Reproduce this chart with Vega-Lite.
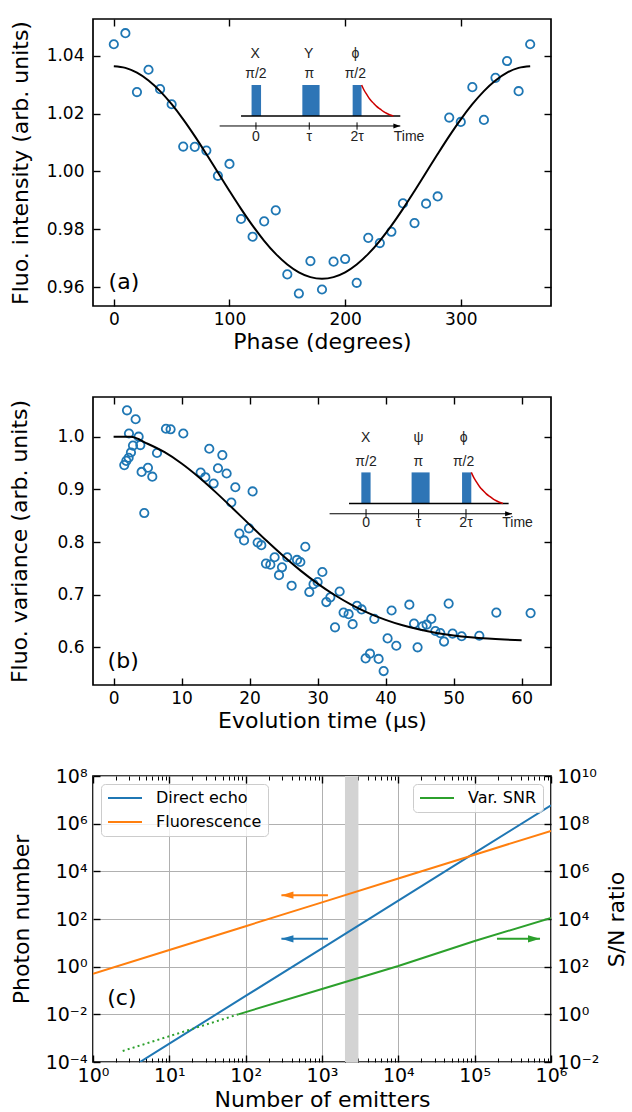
{
  "$schema": "https://vega.github.io/schema/vega-lite/v6.json",
  "background": "white",
  "padding": {"left": 8, "top": 17, "right": 0, "bottom": 2},
  "bounds": "flush",
  "spacing": 91,
  "resolve": {"legend": {"color": "independent", "stroke": "independent"}},
  "config": {
    "font": "DejaVu Sans",
    "view": {"stroke": "black", "strokeWidth": 1.7},
    "axis": {"labelFont": "DejaVu Sans", "titleFont": "DejaVu Sans", "labelColor": "black", "titleColor": "black", "titleFontWeight": "normal", "tickColor": "black", "tickWidth": 1.4, "domain": false, "grid": false, "labelFlush": false, "labelOverlap": false}
  },
  "datasets": {
    "a_pts": [
      {"phase":0,"intensity":1.0439},{"phase":10,"intensity":1.0477},{"phase":20,"intensity":1.0274},{"phase":30,"intensity":1.0351},{"phase":40,"intensity":1.0284},{"phase":50,"intensity":1.0232},{"phase":60,"intensity":1.0086},{"phase":70,"intensity":1.0085},{"phase":80,"intensity":1.0072},{"phase":90,"intensity":0.9985},{"phase":100,"intensity":1.0026},{"phase":110,"intensity":0.9836},{"phase":120,"intensity":0.9775},{"phase":130,"intensity":0.9828},{"phase":140,"intensity":0.9866},{"phase":150,"intensity":0.9645},{"phase":160,"intensity":0.9579},{"phase":170,"intensity":0.9691},{"phase":180,"intensity":0.9593},{"phase":190,"intensity":0.9689},{"phase":200,"intensity":0.9698},{"phase":210,"intensity":0.9616},{"phase":220,"intensity":0.9771},{"phase":230,"intensity":0.9753},{"phase":240,"intensity":0.9792},{"phase":250,"intensity":0.9890},{"phase":260,"intensity":0.9822},{"phase":270,"intensity":0.9889},{"phase":280,"intensity":0.9914},{"phase":290,"intensity":1.0186},{"phase":300,"intensity":1.0171},{"phase":310,"intensity":1.0291},{"phase":320,"intensity":1.0178},{"phase":330,"intensity":1.0323},{"phase":340,"intensity":1.0381},{"phase":350,"intensity":1.0277},{"phase":360,"intensity":1.0439}
    ],
    "a_fit": [
      {"phase":0,"intensity":1.03630},{"phase":10,"intensity":1.03574},{"phase":20,"intensity":1.03409},{"phase":30,"intensity":1.03139},{"phase":40,"intensity":1.02773},{"phase":50,"intensity":1.02321},{"phase":60,"intensity":1.01798},{"phase":70,"intensity":1.01219},{"phase":80,"intensity":1.00601},{"phase":90,"intensity":0.99965},{"phase":100,"intensity":0.99329},{"phase":110,"intensity":0.98711},{"phase":120,"intensity":0.98132},{"phase":130,"intensity":0.97609},{"phase":140,"intensity":0.97157},{"phase":150,"intensity":0.96791},{"phase":160,"intensity":0.96521},{"phase":170,"intensity":0.96356},{"phase":180,"intensity":0.96300},{"phase":190,"intensity":0.96356},{"phase":200,"intensity":0.96521},{"phase":210,"intensity":0.96791},{"phase":220,"intensity":0.97157},{"phase":230,"intensity":0.97609},{"phase":240,"intensity":0.98132},{"phase":250,"intensity":0.98711},{"phase":260,"intensity":0.99329},{"phase":270,"intensity":0.99965},{"phase":280,"intensity":1.00601},{"phase":290,"intensity":1.01219},{"phase":300,"intensity":1.01798},{"phase":310,"intensity":1.02321},{"phase":320,"intensity":1.02773},{"phase":330,"intensity":1.03139},{"phase":340,"intensity":1.03409},{"phase":350,"intensity":1.03574},{"phase":360,"intensity":1.03630}
    ],
    "a_pulse": [{"t0":119.1,"t1":127.3,"v0":1.01914,"v1":1.02984},{"t0":163.0,"t1":177.9,"v0":1.01914,"v1":1.02984},{"t0":206.5,"t1":214.2,"v0":1.01914,"v1":1.02984}],
    "a_base": [{"t0":110.0,"t1":247.7,"v":1.01914}],
    "a_axis": [{"t0":91.5,"t1":247.7,"v":1.0157}],
    "a_tick": [{"t":122.9,"v0":1.01442,"v1":1.01694},{"t":169.0,"v0":1.01442,"v1":1.01694},{"t":210.3,"v0":1.01442,"v1":1.01694}],
    "a_head": [{"t":247.7,"v":1.0157}],
    "a_decay": [{"t":214.25,"v":1.02984},{"t":216.41,"v":1.02802},{"t":218.92,"v":1.02642},{"t":221.60,"v":1.02481},{"t":224.62,"v":1.02353},{"t":227.22,"v":1.02246},{"t":230.42,"v":1.02149},{"t":233.27,"v":1.02064},{"t":236.21,"v":1.02000},{"t":238.46,"v":1.01957},{"t":241.66,"v":1.01914}],
    "a_txt": [
      {"t":122.3,"v":1.03926,"label":"X"},{"t":168.4,"v":1.03926,"label":"Y"},{"t":208.8,"v":1.03926,"label":"ϕ"},
      {"t":122.9,"v":1.03225,"label":"π/2"},{"t":169.0,"v":1.03225,"label":"π"},{"t":208.8,"v":1.03225,"label":"π/2"},
      {"t":122.9,"v":1.01052,"label":"0"},{"t":169.0,"v":1.01052,"label":"τ"},{"t":210.3,"v":1.01052,"label":"2τ"},{"t":255.3,"v":1.01052,"label":"Time"}
    ],
    "a_tag": [{"t":-4.5,"v":0.95933,"label":"(a)"}],
    "b_pts": [
      {"t":1.97,"v":1.050},{"t":3.24,"v":1.033},{"t":2.26,"v":1.006},{"t":3.68,"v":1.000},{"t":2.85,"v":0.983},{"t":3.93,"v":0.984},{"t":2.55,"v":0.970},{"t":2.21,"v":0.960},{"t":1.87,"v":0.954},{"t":1.57,"v":0.946},{"t":5.05,"v":0.941},{"t":4.12,"v":0.933},{"t":5.69,"v":0.924},{"t":4.51,"v":0.855},{"t":6.38,"v":0.969},{"t":7.70,"v":1.015},{"t":8.38,"v":1.014},{"t":10.25,"v":1.006},{"t":14.07,"v":0.977},{"t":15.99,"v":0.965},{"t":12.80,"v":0.932},{"t":13.49,"v":0.923},{"t":14.71,"v":0.911},{"t":15.35,"v":0.940},{"t":16.62,"v":0.930},{"t":17.90,"v":0.904},{"t":20.44,"v":0.896},{"t":17.31,"v":0.875},{"t":18.49,"v":0.816},{"t":19.90,"v":0.826},{"t":19.18,"v":0.803},{"t":21.18,"v":0.799},{"t":21.72,"v":0.794},{"t":23.68,"v":0.771},{"t":25.54,"v":0.771},{"t":28.19,"v":0.791},{"t":26.97,"v":0.766},{"t":27.46,"v":0.762},{"t":22.40,"v":0.759},{"t":23.05,"v":0.757},{"t":24.76,"v":0.752},{"t":30.70,"v":0.743},{"t":24.32,"v":0.737},{"t":26.18,"v":0.717},{"t":30.00,"v":0.724},{"t":29.40,"v":0.720},{"t":28.78,"v":0.705},{"t":33.24,"v":0.706},{"t":31.87,"v":0.695},{"t":31.28,"v":0.686},{"t":32.56,"v":0.638},{"t":33.82,"v":0.666},{"t":34.56,"v":0.663},{"t":35.15,"v":0.644},{"t":35.79,"v":0.679},{"t":36.47,"v":0.672},{"t":38.34,"v":0.654},{"t":37.06,"v":0.579},{"t":37.70,"v":0.588},{"t":38.97,"v":0.578},{"t":39.71,"v":0.555},{"t":40.88,"v":0.670},{"t":40.29,"v":0.617},{"t":41.57,"v":0.603},{"t":43.49,"v":0.681},{"t":44.18,"v":0.645},{"t":44.70,"v":0.600},{"t":45.44,"v":0.640},{"t":46.03,"v":0.643},{"t":46.72,"v":0.654},{"t":47.31,"v":0.631},{"t":48.04,"v":0.627},{"t":48.59,"v":0.611},{"t":49.27,"v":0.683},{"t":49.85,"v":0.626},{"t":51.18,"v":0.621},{"t":53.78,"v":0.622},{"t":56.28,"v":0.666},{"t":61.32,"v":0.665}
    ],
    "b_fit": [
      {"t":0,"v":1.0},{"t":2.5,"v":0.9996},{"t":5,"v":0.9866},{"t":7.5,"v":0.97049},{"t":10,"v":0.94909},{"t":12.5,"v":0.92343},{"t":15,"v":0.89471},{"t":17.5,"v":0.86415},{"t":20,"v":0.83296},{"t":22.5,"v":0.80222},{"t":25,"v":0.77288},{"t":27.5,"v":0.74566},{"t":30,"v":0.72108},{"t":32.5,"v":0.69941},{"t":35,"v":0.68078},{"t":37.5,"v":0.66511},{"t":40,"v":0.65223},{"t":42.5,"v":0.64187},{"t":45,"v":0.63372},{"t":47.5,"v":0.62742},{"t":50,"v":0.62267},{"t":52.5,"v":0.61915},{"t":55,"v":0.61659},{"t":57.5,"v":0.61477},{"t":60,"v":0.61349}
    ],
    "b_pulse": [{"t0":36.43,"t1":37.79,"v0":0.87319,"v1":0.93213},{"t0":43.82,"t1":46.47,"v0":0.87319,"v1":0.93213},{"t0":51.24,"t1":52.60,"v0":0.87319,"v1":0.93213}],
    "b_base": [{"t0":34.62,"t1":58.09,"v":0.87319}],
    "b_axis": [{"t0":31.76,"t1":58.59,"v":0.85361}],
    "b_tick": [{"t":37.12,"v0":0.84525,"v1":0.86236},{"t":44.85,"v0":0.84525,"v1":0.86236},{"t":51.82,"v0":0.84525,"v1":0.86236}],
    "b_head": [{"t":58.59,"v":0.85361}],
    "b_decay": [{"t":52.60,"v":0.93213},{"t":52.97,"v":0.92211},{"t":53.40,"v":0.91327},{"t":53.85,"v":0.90443},{"t":54.37,"v":0.89736},{"t":54.81,"v":0.89146},{"t":55.35,"v":0.88616},{"t":55.84,"v":0.88144},{"t":56.34,"v":0.87791},{"t":56.72,"v":0.87555},{"t":57.26,"v":0.87319}],
    "b_txt": [
      {"t":37.06,"v":0.98973,"label":"X"},{"t":44.85,"v":0.98973,"label":"ψ"},{"t":51.47,"v":0.98973,"label":"ϕ"},
      {"t":37.12,"v":0.94449,"label":"π/2"},{"t":44.81,"v":0.94449,"label":"π"},{"t":51.47,"v":0.94449,"label":"π/2"},
      {"t":37.12,"v":0.82757,"label":"0"},{"t":44.85,"v":0.82757,"label":"τ"},{"t":51.82,"v":0.82757,"label":"2τ"},{"t":59.40,"v":0.82757,"label":"Time"}
    ],
    "b_tag": [{"t":-0.88,"v":0.56008,"label":"(b)"}],
    "c_band": [{"lo":2000,"hi":3000}],
    "c_lines": [
      {"n":4.12,"val":0.0001,"series":"Direct echo"},{"n":10,"val":0.00059,"series":"Direct echo"},{"n":100,"val":0.059,"series":"Direct echo"},{"n":1000,"val":5.9,"series":"Direct echo"},{"n":10000,"val":590,"series":"Direct echo"},{"n":100000,"val":59000,"series":"Direct echo"},{"n":1000000,"val":5900000,"series":"Direct echo"},
      {"n":1,"val":0.5,"series":"Fluorescence"},{"n":10,"val":5,"series":"Fluorescence"},{"n":100,"val":50,"series":"Fluorescence"},{"n":1000,"val":500,"series":"Fluorescence"},{"n":10000,"val":5000,"series":"Fluorescence"},{"n":100000,"val":50000,"series":"Fluorescence"},{"n":1000000,"val":500000,"series":"Fluorescence"}
    ],
    "c_snr": [{"n":80,"snr":1.0,"series":"Var. SNR"},{"n":1000,"snr":11.6,"series":"Var. SNR"},{"n":10000,"snr":107,"series":"Var. SNR"},{"n":100000,"snr":1200,"series":"Var. SNR"},{"n":1000000,"snr":11000,"series":"Var. SNR"}],
    "c_snr_dot": [{"n":2.45,"snr":0.029},{"n":80,"snr":1.0}],
    "c_arrows": [{"series":"Fluorescence","tail":1197,"tip":294,"val":1000},{"series":"Direct echo","tail":1197,"tip":294,"val":14.8}],
    "c_arrow_snr": [{"tail":196000,"tip":718000,"snr":1480}],
    "c_tag": [{"n":1.538,"val":0.02393,"label":"(c)"}]
  },
  "vconcat": [
    {
      "width": 458, "height": 287,
      "resolve": {"axis": {"x": "independent", "y": "independent"}},
      "layer": [
        {"data": {"name": "a_pts"}, "mark": {"type": "point", "shape": "circle", "size": 70, "strokeWidth": 1.8, "color": "#1f77b4", "filled": false, "opacity": 1},
         "encoding": {
           "x": {"field": "phase", "type": "quantitative", "scale": {"domain": [-18, 378], "nice": false, "zero": false}, "axis": {"orient": "bottom", "values": [0, 100, 200, 300], "title": "Phase (degrees)", "labelFontSize": 17, "titleFontSize": 22, "tickSize": -7, "labelPadding": 12, "titlePadding": 4}},
           "y": {"field": "intensity", "type": "quantitative", "scale": {"domain": [0.9536, 1.0526], "nice": false, "zero": false}, "axis": {"orient": "left", "values": [0.96, 0.98, 1.0, 1.02, 1.04], "format": ".2f", "title": "Fluo. intensity (arb. units)", "labelFontSize": 17, "titleFontSize": 22, "tickSize": -7, "labelPadding": 16, "titlePadding": 14}}
         }},
        {"data": {"name": "a_fit"}, "mark": {"type": "line", "color": "black", "strokeWidth": 2, "interpolate": "monotone"},
         "encoding": {
           "x": {"field": "phase", "type": "quantitative", "scale": {"domain": [-18, 378], "nice": false, "zero": false}, "axis": {"orient": "top", "values": [0, 100, 200, 300], "labels": false, "title": null, "tickSize": -7}},
           "y": {"field": "intensity", "type": "quantitative", "scale": {"domain": [0.9536, 1.0526], "nice": false, "zero": false}, "axis": {"orient": "right", "values": [0.96, 0.98, 1.0, 1.02, 1.04], "labels": false, "title": null, "tickSize": -7}}
         }},
        {"data": {"name": "a_pulse"}, "mark": {"type": "rect", "color": "#2e75b6"},
         "encoding": {
           "x": {"field": "t0", "type": "quantitative", "scale": {"domain": [-18, 378], "nice": false, "zero": false}, "axis": null}, "x2": {"field": "t1"},
           "y": {"field": "v0", "type": "quantitative", "scale": {"domain": [0.9536, 1.0526], "nice": false, "zero": false}, "axis": null}, "y2": {"field": "v1"}
         }},
        {"data": {"name": "a_base"}, "mark": {"type": "rule", "color": "black", "strokeWidth": 1.6},
         "encoding": {
           "x": {"field": "t0", "type": "quantitative", "scale": {"domain": [-18, 378], "nice": false, "zero": false}, "axis": null}, "x2": {"field": "t1"},
           "y": {"field": "v", "type": "quantitative", "scale": {"domain": [0.9536, 1.0526], "nice": false, "zero": false}, "axis": null}
         }},
        {"data": {"name": "a_axis"}, "mark": {"type": "rule", "color": "black", "strokeWidth": 1},
         "encoding": {
           "x": {"field": "t0", "type": "quantitative", "scale": {"domain": [-18, 378], "nice": false, "zero": false}, "axis": null}, "x2": {"field": "t1"},
           "y": {"field": "v", "type": "quantitative", "scale": {"domain": [0.9536, 1.0526], "nice": false, "zero": false}, "axis": null}
         }},
        {"data": {"name": "a_tick"}, "mark": {"type": "rule", "color": "black", "strokeWidth": 1},
         "encoding": {
           "x": {"field": "t", "type": "quantitative", "scale": {"domain": [-18, 378], "nice": false, "zero": false}, "axis": null},
           "y": {"field": "v0", "type": "quantitative", "scale": {"domain": [0.9536, 1.0526], "nice": false, "zero": false}, "axis": null}, "y2": {"field": "v1"}
         }},
        {"data": {"name": "a_head"}, "mark": {"type": "point", "shape": "M0,0L-4,-1.4L-4,1.4Z", "size": 12, "filled": true, "color": "black", "opacity": 1, "strokeWidth": 0},
         "encoding": {
           "x": {"field": "t", "type": "quantitative", "scale": {"domain": [-18, 378], "nice": false, "zero": false}, "axis": null},
           "y": {"field": "v", "type": "quantitative", "scale": {"domain": [0.9536, 1.0526], "nice": false, "zero": false}, "axis": null}
         }},
        {"data": {"name": "a_decay"}, "mark": {"type": "line", "color": "#cc0000", "strokeWidth": 1.5, "interpolate": "monotone"},
         "encoding": {
           "x": {"field": "t", "type": "quantitative", "scale": {"domain": [-18, 378], "nice": false, "zero": false}, "axis": null},
           "y": {"field": "v", "type": "quantitative", "scale": {"domain": [0.9536, 1.0526], "nice": false, "zero": false}, "axis": null}
         }},
        {"data": {"name": "a_txt"}, "mark": {"type": "text", "font": "Liberation Sans", "fontSize": 14, "align": "center", "baseline": "alphabetic", "color": "#222222"},
         "encoding": {
           "x": {"field": "t", "type": "quantitative", "scale": {"domain": [-18, 378], "nice": false, "zero": false}, "axis": null},
           "y": {"field": "v", "type": "quantitative", "scale": {"domain": [0.9536, 1.0526], "nice": false, "zero": false}, "axis": null},
           "text": {"field": "label"}
         }},
        {"data": {"name": "a_tag"}, "mark": {"type": "text", "font": "DejaVu Sans", "fontSize": 22, "align": "left", "baseline": "alphabetic", "color": "black"},
         "encoding": {
           "x": {"field": "t", "type": "quantitative", "scale": {"domain": [-18, 378], "nice": false, "zero": false}, "axis": null},
           "y": {"field": "v", "type": "quantitative", "scale": {"domain": [0.9536, 1.0526], "nice": false, "zero": false}, "axis": null},
           "text": {"field": "label"}
         }}
      ]
    },
    {
      "width": 458, "height": 288,
      "resolve": {"axis": {"x": "independent", "y": "independent"}},
      "layer": [
        {"data": {"name": "b_pts"}, "mark": {"type": "point", "shape": "circle", "size": 70, "strokeWidth": 1.8, "color": "#1f77b4", "filled": false, "opacity": 1},
         "encoding": {
           "x": {"field": "t", "type": "quantitative", "scale": {"domain": [-3.03, 64.32], "nice": false, "zero": false}, "axis": {"orient": "bottom", "values": [0, 10, 20, 30, 40, 50, 60], "title": "Evolution time (μs)", "labelFontSize": 17, "titleFontSize": 22, "tickSize": -7, "labelPadding": 12, "titlePadding": 4}},
           "y": {"field": "v", "type": "quantitative", "scale": {"domain": [0.5285, 1.0753], "nice": false, "zero": false}, "axis": {"orient": "left", "values": [0.6, 0.7, 0.8, 0.9, 1.0], "format": ".1f", "title": "Fluo. variance (arb. units)", "labelFontSize": 17, "titleFontSize": 22, "tickSize": -7, "labelPadding": 16, "titlePadding": 25}}
         }},
        {"data": {"name": "b_fit"}, "mark": {"type": "line", "color": "black", "strokeWidth": 2, "interpolate": "monotone"},
         "encoding": {
           "x": {"field": "t", "type": "quantitative", "scale": {"domain": [-3.03, 64.32], "nice": false, "zero": false}, "axis": {"orient": "top", "values": [0, 10, 20, 30, 40, 50, 60], "labels": false, "title": null, "tickSize": -7}},
           "y": {"field": "v", "type": "quantitative", "scale": {"domain": [0.5285, 1.0753], "nice": false, "zero": false}, "axis": {"orient": "right", "values": [0.6, 0.7, 0.8, 0.9, 1.0], "labels": false, "title": null, "tickSize": -7}}
         }},
        {"data": {"name": "b_pulse"}, "mark": {"type": "rect", "color": "#2e75b6"},
         "encoding": {
           "x": {"field": "t0", "type": "quantitative", "scale": {"domain": [-3.03, 64.32], "nice": false, "zero": false}, "axis": null}, "x2": {"field": "t1"},
           "y": {"field": "v0", "type": "quantitative", "scale": {"domain": [0.5285, 1.0753], "nice": false, "zero": false}, "axis": null}, "y2": {"field": "v1"}
         }},
        {"data": {"name": "b_base"}, "mark": {"type": "rule", "color": "black", "strokeWidth": 1.6},
         "encoding": {
           "x": {"field": "t0", "type": "quantitative", "scale": {"domain": [-3.03, 64.32], "nice": false, "zero": false}, "axis": null}, "x2": {"field": "t1"},
           "y": {"field": "v", "type": "quantitative", "scale": {"domain": [0.5285, 1.0753], "nice": false, "zero": false}, "axis": null}
         }},
        {"data": {"name": "b_axis"}, "mark": {"type": "rule", "color": "black", "strokeWidth": 1},
         "encoding": {
           "x": {"field": "t0", "type": "quantitative", "scale": {"domain": [-3.03, 64.32], "nice": false, "zero": false}, "axis": null}, "x2": {"field": "t1"},
           "y": {"field": "v", "type": "quantitative", "scale": {"domain": [0.5285, 1.0753], "nice": false, "zero": false}, "axis": null}
         }},
        {"data": {"name": "b_tick"}, "mark": {"type": "rule", "color": "black", "strokeWidth": 1},
         "encoding": {
           "x": {"field": "t", "type": "quantitative", "scale": {"domain": [-3.03, 64.32], "nice": false, "zero": false}, "axis": null},
           "y": {"field": "v0", "type": "quantitative", "scale": {"domain": [0.5285, 1.0753], "nice": false, "zero": false}, "axis": null}, "y2": {"field": "v1"}
         }},
        {"data": {"name": "b_head"}, "mark": {"type": "point", "shape": "M0,0L-4,-1.4L-4,1.4Z", "size": 12, "filled": true, "color": "black", "opacity": 1, "strokeWidth": 0},
         "encoding": {
           "x": {"field": "t", "type": "quantitative", "scale": {"domain": [-3.03, 64.32], "nice": false, "zero": false}, "axis": null},
           "y": {"field": "v", "type": "quantitative", "scale": {"domain": [0.5285, 1.0753], "nice": false, "zero": false}, "axis": null}
         }},
        {"data": {"name": "b_decay"}, "mark": {"type": "line", "color": "#cc0000", "strokeWidth": 1.5, "interpolate": "monotone"},
         "encoding": {
           "x": {"field": "t", "type": "quantitative", "scale": {"domain": [-3.03, 64.32], "nice": false, "zero": false}, "axis": null},
           "y": {"field": "v", "type": "quantitative", "scale": {"domain": [0.5285, 1.0753], "nice": false, "zero": false}, "axis": null}
         }},
        {"data": {"name": "b_txt"}, "mark": {"type": "text", "font": "Liberation Sans", "fontSize": 14, "align": "center", "baseline": "alphabetic", "color": "#222222"},
         "encoding": {
           "x": {"field": "t", "type": "quantitative", "scale": {"domain": [-3.03, 64.32], "nice": false, "zero": false}, "axis": null},
           "y": {"field": "v", "type": "quantitative", "scale": {"domain": [0.5285, 1.0753], "nice": false, "zero": false}, "axis": null},
           "text": {"field": "label"}
         }},
        {"data": {"name": "b_tag"}, "mark": {"type": "text", "font": "DejaVu Sans", "fontSize": 22, "align": "left", "baseline": "alphabetic", "color": "black"},
         "encoding": {
           "x": {"field": "t", "type": "quantitative", "scale": {"domain": [-3.03, 64.32], "nice": false, "zero": false}, "axis": null},
           "y": {"field": "v", "type": "quantitative", "scale": {"domain": [0.5285, 1.0753], "nice": false, "zero": false}, "axis": null},
           "text": {"field": "label"}
         }}
      ]
    },
    {
      "width": 458, "height": 286,
      "resolve": {"scale": {"y": "independent"}, "axis": {"x": "independent", "y": "independent"}},
      "layer": [
        {"data": {"name": "c_band"}, "mark": {"type": "rect", "color": "#d3d3d3"},
         "encoding": {
           "x": {"field": "lo", "type": "quantitative", "scale": {"type": "log", "domain": [1, 1000000], "nice": false}, "axis": {"orient": "bottom", "values": [1, 10, 100, 1000, 10000, 100000, 1000000], "labelExpr": "'10' + replace(replace(replace(replace(replace(replace(replace(replace(replace(replace(replace('' + round(log(datum.value) / LN10), '-', '⁻'), '0', '⁰'), '1', '¹'), '2', '²'), '3', '³'), '4', '⁴'), '5', '⁵'), '6', '⁶'), '7', '⁷'), '8', '⁸'), '9', '⁹')", "title": "Number of emitters", "labelFontSize": 19, "titleFontSize": 22, "tickSize": -7, "labelPadding": 11, "titlePadding": 4, "grid": true, "gridColor": "#b0b0b0", "gridWidth": 1}},
           "x2": {"field": "hi"},
           "y": {"datum": 0.0001, "type": "quantitative", "scale": {"type": "log", "domain": [0.0001, 100000000], "nice": false}, "axis": {"orient": "left", "values": [0.0001, 0.01, 1, 100, 10000, 1000000, 100000000], "labelExpr": "'10' + replace(replace(replace(replace(replace(replace(replace(replace(replace(replace(replace('' + round(log(datum.value) / LN10), '-', '⁻'), '0', '⁰'), '1', '¹'), '2', '²'), '3', '³'), '4', '⁴'), '5', '⁵'), '6', '⁶'), '7', '⁷'), '8', '⁸'), '9', '⁹')", "title": "Photon number", "labelFontSize": 19, "titleFontSize": 22, "tickSize": -7, "labelPadding": 13, "titlePadding": 12, "grid": true, "gridColor": "#b0b0b0", "gridWidth": 1}},
           "y2": {"datum": 100000000}
         }},
        {"data": {"name": "c_lines"}, "mark": {"type": "line", "strokeWidth": 2, "clip": true},
         "encoding": {
           "x": {"field": "n", "type": "quantitative", "scale": {"type": "log", "domain": [1, 1000000], "nice": false}, "axis": {"orient": "bottom", "values": [2,3,4,5,6,7,8,9,20,30,40,50,60,70,80,90,200,300,400,500,600,700,800,900,2000,3000,4000,5000,6000,7000,8000,9000,20000,30000,40000,50000,60000,70000,80000,90000,200000,300000,400000,500000,600000,700000,800000,900000], "labels": false, "title": null, "tickSize": -4, "tickWidth": 1}},
           "y": {"field": "val", "type": "quantitative", "scale": {"type": "log", "domain": [0.0001, 100000000], "nice": false}, "axis": null},
           "color": {"field": "series", "type": "nominal", "scale": {"domain": ["Direct echo", "Fluorescence"], "range": ["#1f77b4", "#ff7f0e"]},
             "legend": {"orient": "top-left", "title": null, "offset": 8, "symbolType": "stroke", "symbolSize": 1156, "symbolStrokeWidth": 2, "clipHeight": 16, "labelFontSize": 16, "labelFont": "DejaVu Sans", "labelColor": "black", "fillColor": "rgba(255,255,255,0.8)", "strokeColor": "#cccccc", "cornerRadius": 4, "padding": 6, "rowPadding": 8, "labelOffset": 13}}
         }},
        {"data": {"name": "c_arrows"}, "transform": [{"filter": "datum.series == 'Fluorescence'"}], "mark": {"type": "rule", "color": "#ff7f0e", "strokeWidth": 2},
         "encoding": {
           "x": {"field": "tip", "type": "quantitative", "scale": {"type": "log", "domain": [1, 1000000], "nice": false}, "axis": {"orient": "top", "values": [1, 10, 100, 1000, 10000, 100000, 1000000], "labels": false, "title": null, "tickSize": -7}},
           "x2": {"field": "tail"},
           "y": {"field": "val", "type": "quantitative", "scale": {"type": "log", "domain": [0.0001, 100000000], "nice": false}, "axis": null}
         }},
        {"data": {"name": "c_arrows"}, "transform": [{"filter": "datum.series == 'Direct echo'"}], "mark": {"type": "rule", "color": "#1f77b4", "strokeWidth": 2},
         "encoding": {
           "x": {"field": "tip", "type": "quantitative", "scale": {"type": "log", "domain": [1, 1000000], "nice": false}, "axis": {"orient": "top", "values": [2,3,4,5,6,7,8,9,20,30,40,50,60,70,80,90,200,300,400,500,600,700,800,900,2000,3000,4000,5000,6000,7000,8000,9000,20000,30000,40000,50000,60000,70000,80000,90000,200000,300000,400000,500000,600000,700000,800000,900000], "labels": false, "title": null, "tickSize": -4, "tickWidth": 1}},
           "x2": {"field": "tail"},
           "y": {"field": "val", "type": "quantitative", "scale": {"type": "log", "domain": [0.0001, 100000000], "nice": false}, "axis": null}
         }},
        {"data": {"name": "c_arrows"}, "transform": [{"filter": "datum.series == 'Fluorescence'"}], "mark": {"type": "point", "shape": "M0,0L4,-1.2L4,1.2Z", "size": 36, "filled": true, "color": "#ff7f0e", "opacity": 1, "strokeWidth": 0},
         "encoding": {
           "x": {"field": "tip", "type": "quantitative", "scale": {"type": "log", "domain": [1, 1000000], "nice": false}, "axis": null},
           "y": {"field": "val", "type": "quantitative", "scale": {"type": "log", "domain": [0.0001, 100000000], "nice": false}, "axis": null}
         }},
        {"data": {"name": "c_arrows"}, "transform": [{"filter": "datum.series == 'Direct echo'"}], "mark": {"type": "point", "shape": "M0,0L4,-1.2L4,1.2Z", "size": 36, "filled": true, "color": "#1f77b4", "opacity": 1, "strokeWidth": 0},
         "encoding": {
           "x": {"field": "tip", "type": "quantitative", "scale": {"type": "log", "domain": [1, 1000000], "nice": false}, "axis": null},
           "y": {"field": "val", "type": "quantitative", "scale": {"type": "log", "domain": [0.0001, 100000000], "nice": false}, "axis": null}
         }},
        {"data": {"name": "c_snr"}, "mark": {"type": "line", "strokeWidth": 2, "clip": true},
         "encoding": {
           "x": {"field": "n", "type": "quantitative", "scale": {"type": "log", "domain": [1, 1000000], "nice": false}, "axis": null},
           "y": {"field": "snr", "type": "quantitative", "scale": {"type": "log", "domain": [0.01, 10000000000], "nice": false}, "axis": {"orient": "right", "values": [0.01, 1, 100, 10000, 1000000, 100000000, 10000000000], "labelExpr": "'10' + replace(replace(replace(replace(replace(replace(replace(replace(replace(replace(replace('' + round(log(datum.value) / LN10), '-', '⁻'), '0', '⁰'), '1', '¹'), '2', '²'), '3', '³'), '4', '⁴'), '5', '⁵'), '6', '⁶'), '7', '⁷'), '8', '⁸'), '9', '⁹')", "title": "S/N ratio", "titleAngle": 270, "titleBaseline": "alphabetic", "labelFontSize": 19, "titleFontSize": 22, "tickSize": -7, "labelPadding": 13, "titlePadding": 25}},
           "stroke": {"field": "series", "type": "nominal", "scale": {"domain": ["Var. SNR"], "range": ["#2ca02c"]},
             "legend": {"orient": "top-right", "title": null, "offset": 8, "symbolType": "stroke", "symbolSize": 1156, "symbolStrokeWidth": 2, "clipHeight": 16, "labelFontSize": 16, "labelFont": "DejaVu Sans", "labelColor": "black", "fillColor": "rgba(255,255,255,0.8)", "strokeColor": "#cccccc", "cornerRadius": 4, "padding": 6, "rowPadding": 8, "labelOffset": 13}}
         }},
        {"data": {"name": "c_snr_dot"}, "mark": {"type": "line", "strokeWidth": 2, "color": "#2ca02c", "strokeDash": [2, 3.2], "clip": true},
         "encoding": {
           "x": {"field": "n", "type": "quantitative", "scale": {"type": "log", "domain": [1, 1000000], "nice": false}, "axis": null},
           "y": {"field": "snr", "type": "quantitative", "scale": {"type": "log", "domain": [0.01, 10000000000], "nice": false}, "axis": null}
         }},
        {"data": {"name": "c_arrow_snr"}, "mark": {"type": "rule", "color": "#2ca02c", "strokeWidth": 2},
         "encoding": {
           "x": {"field": "tail", "type": "quantitative", "scale": {"type": "log", "domain": [1, 1000000], "nice": false}, "axis": null},
           "x2": {"field": "tip"},
           "y": {"field": "snr", "type": "quantitative", "scale": {"type": "log", "domain": [0.01, 10000000000], "nice": false}, "axis": null}
         }},
        {"data": {"name": "c_arrow_snr"}, "mark": {"type": "point", "shape": "M0,0L-4,-1.2L-4,1.2Z", "size": 36, "filled": true, "color": "#2ca02c", "opacity": 1, "strokeWidth": 0},
         "encoding": {
           "x": {"field": "tip", "type": "quantitative", "scale": {"type": "log", "domain": [1, 1000000], "nice": false}, "axis": null},
           "y": {"field": "snr", "type": "quantitative", "scale": {"type": "log", "domain": [0.01, 10000000000], "nice": false}, "axis": null}
         }},
        {"data": {"name": "c_tag"}, "mark": {"type": "text", "font": "DejaVu Sans", "fontSize": 22, "align": "left", "baseline": "alphabetic", "color": "black"},
         "encoding": {
           "x": {"field": "n", "type": "quantitative", "scale": {"type": "log", "domain": [1, 1000000], "nice": false}, "axis": null},
           "y": {"field": "val", "type": "quantitative", "scale": {"type": "log", "domain": [0.0001, 100000000], "nice": false}, "axis": null},
           "text": {"field": "label"}
         }}
      ]
    }
  ]
}
